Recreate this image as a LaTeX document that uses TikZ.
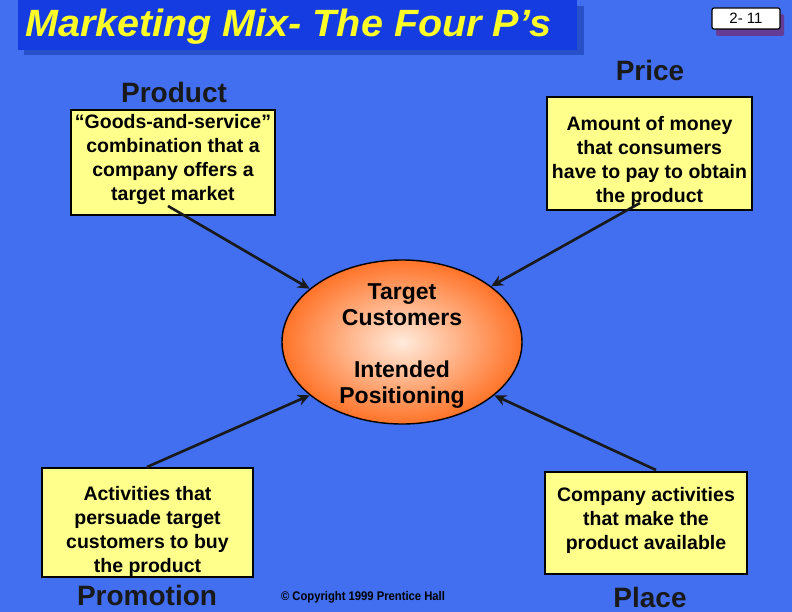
\documentclass[tikz,border=0pt]{standalone}
\usepackage{fontspec}
\setmainfont{Liberation Sans}
\usetikzlibrary{arrows.meta,shapes.geometric}
\definecolor{bgblue}{RGB}{66,110,240}
\definecolor{titleblue}{RGB}{20,60,225}
\definecolor{titleshadow}{RGB}{40,80,200}
\definecolor{boxyellow}{RGB}{255,255,140}
\definecolor{titleyellow}{RGB}{255,255,40}
\definecolor{badgeshadow}{RGB}{100,60,150}
\definecolor{orangeout}{RGB}{255,115,40}
\definecolor{orangein}{RGB}{255,235,220}
\tikzset{
  infobox/.style={draw=black, line width=1.4pt, fill=boxyellow, inner sep=0pt},
  infotext/.style={align=center, font=\fontsize{19.5}{24}\selectfont\bfseries, inner sep=0pt},
  plabel/.style={font=\fontsize{28}{30}\selectfont\bfseries, text=black!90},
  ctext/.style={font=\fontsize{23}{26}\selectfont\bfseries, align=center},
  conn/.style={line width=2.6pt, draw=black!90, -{Stealth[length=12pt,width=11pt]}}
}
\begin{document}
\begin{tikzpicture}[x=1pt,y=-1pt]
\fill[bgblue] (0,0) rectangle (792,612);
\useasboundingbox (0,0) rectangle (792,612);
% title
\fill[titleshadow] (24,6) rectangle (584,55);
\fill[titleblue] (18,0) rectangle (577,50);
\node[anchor=base west, text=titleyellow, xscale=1.04, font=\fontsize{38}{42}\selectfont\bfseries\itshape, inner sep=0pt] (title) at (25,37) {Marketing Mix- The Four P’s};
% badge
\fill[badgeshadow, rounded corners=2pt] (716,14) rectangle (784,36);
\node[draw=black, line width=1.2pt, fill=white, rounded corners=2pt, minimum width=68pt, minimum height=21pt, inner sep=0pt, font=\fontsize{15}{17}\selectfont] (badge) at (746,18.5) {2- 11};
% labels
\node[plabel] (pricel) at (650,70) {Price};
\node[plabel] (productl) at (174,92) {Product};
\node[plabel] (promol) at (147,595) {Promotion};
\node[plabel] (placel) at (650,597) {Place};
\node[font=\fontsize{12.5}{14}\selectfont\bfseries, xscale=0.9] (copy) at (363,597) {© Copyright 1999 Prentice Hall};
% boxes
\node[infobox, minimum width=204pt, minimum height=105pt] (product) at (173,162.5) {};
\node[infotext] (productt) at (173,159.5) {“Goods-and-service”\\combination that a\\company offers a\\target market};
\node[infobox, minimum width=205pt, minimum height=113pt] (price) at (649.5,153.5) {};
\node[infotext] (pricet) at (649.5,161) {Amount of money\\that consumers\\have to pay to obtain\\the product};
\node[infobox, minimum width=211pt, minimum height=109pt] (promo) at (147.5,522.5) {};
\node[infotext] (promot) at (147.5,531) {Activities that\\persuade target\\customers to buy\\the product};
\node[infobox, minimum width=202pt, minimum height=102pt] (place) at (646,523) {};
\node[infotext] (placet) at (646,520.5) {Company activities\\that make the\\product available};
% ellipse
\node[ellipse, draw=black, line width=1.4pt, minimum width=240pt, minimum height=164pt, inner sep=0pt, shade, shading=radial, inner color=orangein, outer color=orangeout] (target) at (402,342) {};
\node[ctext] (tc) at (402,305) {Target\\Customers};
\node[ctext] (ip) at (402,385) {Intended\\Positioning};
% connectors
\coordinate (a1) at (168,206);
\coordinate (a2) at (640,203);
\coordinate (a3) at (147,467);
\coordinate (a4) at (656,470);
\draw[conn] (a1) -- (target.{150});
\draw[conn] (a2) -- (target.{32});
\draw[conn] (a3) -- (target.{-150});
\draw[conn] (a4) -- (target.{-30});
\end{tikzpicture}
\end{document}
